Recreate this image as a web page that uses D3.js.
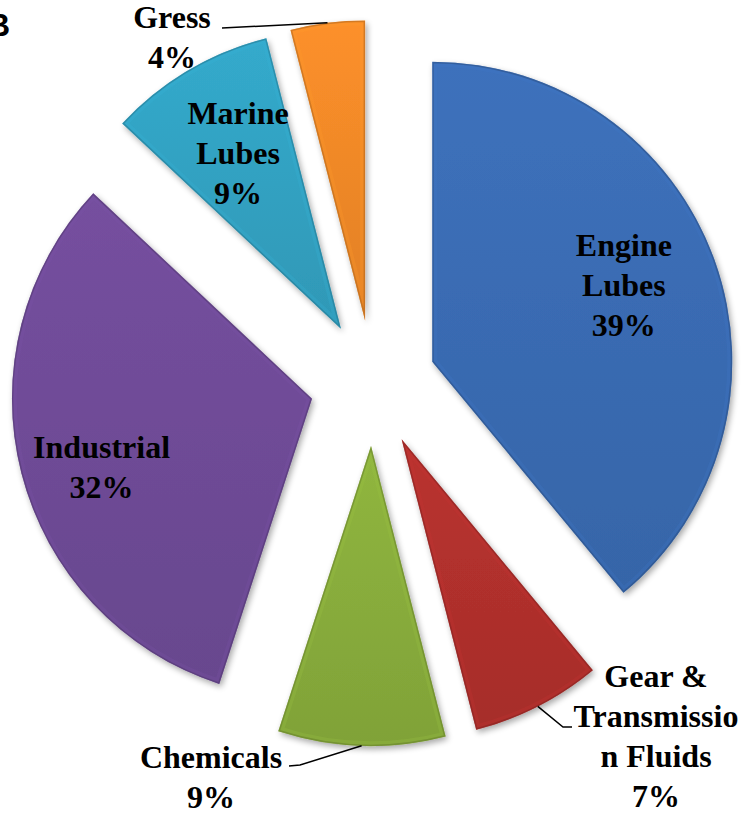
<!DOCTYPE html>
<html>
<head>
<meta charset="utf-8">
<script src="https://cdn.jsdelivr.net/npm/d3@7"></script>
<style>
  body { margin: 0; background: #fff; }
  svg { display: block; }
  .lbl { font-family: "Liberation Serif", "Times New Roman", serif; font-weight: bold; font-size: 32px; fill: #000; }
</style>
</head>
<body>
<svg width="751" height="822"></svg>
<script>
// data
const categories = ['Engine Lubes', 'Gear & Transmission Fluids', 'Chemicals', 'Industrial', 'Marine Lubes', 'Gress'];
const values = [39, 7, 9, 32, 9, 4];
const labelLines = [
  ['Engine', 'Lubes', '39%'],
  ['Gear &', 'Transmissio', 'n Fluids', '7%'],
  ['Chemicals', '9%'],
  ['Industrial', '32%'],
  ['Marine', 'Lubes', '9%'],
  ['Gress', '4%'],
];
const colors = ['#3a6cb4', '#b2302d', '#8aae3c', '#704c98', '#32a3c3', '#f28a28'];

// layout
const R = 300;
const explode = 63;
const cx = 373;
const cy = 383;
const lineH = 40;
// inside labels sit near the centroid, with a small nudge
const nudge = {
  'Engine Lubes': [-6, 3],
  Industrial: [-7, 25],
  'Marine Lubes': [4, 14],
};
// outside labels: text anchor x, first baseline y, leader elbow points
const outside = {
  Gress: { x: 172, y: 28, elbow: [[222, 28]] },
  Chemicals: { x: 211, y: 768, elbow: [[300, 765], [289, 766]] },
  'Gear & Transmission Fluids': { x: 656, y: 687, elbow: [[563, 727], [572, 727]] },
};

const svg = d3.select('svg');
const defs = svg.append('defs');

const shadow = defs.append('filter').attr('id', 'shadow')
  .attr('x', '-20%').attr('y', '-20%').attr('width', '140%').attr('height', '140%');
shadow.append('feGaussianBlur').attr('in', 'SourceAlpha').attr('stdDeviation', 3);
shadow.append('feOffset').attr('dx', 2).attr('dy', 3).attr('result', 'off');
shadow.append('feComponentTransfer').append('feFuncA').attr('type', 'linear').attr('slope', 0.35);
const merge = shadow.append('feMerge');
merge.append('feMergeNode');
merge.append('feMergeNode').attr('in', 'SourceGraphic');

colors.forEach((c, i) => {
  const gr = defs.append('linearGradient').attr('id', `grad${i}`)
    .attr('x1', 0).attr('y1', 0).attr('x2', 0).attr('y2', 1);
  gr.append('stop').attr('offset', '0%').attr('stop-color', d3.color(c).brighter(0.12));
  gr.append('stop').attr('offset', '100%').attr('stop-color', d3.color(c).darker(0.2));
});

const pie = d3.pie().sort(null).value(d => d);
const arcs = pie(values);
const arc = d3.arc().innerRadius(0).outerRadius(R);

const slices = svg.append('g').selectAll('g')
  .data(arcs)
  .enter()
  .append('g')
  .attr('transform', (d) => {
    const mid = (d.startAngle + d.endAngle) / 2;
    d.ox = cx + Math.sin(mid) * explode;
    d.oy = cy - Math.cos(mid) * explode;
    d.mid = mid;
    return `translate(${d.ox},${d.oy})`;
  });

slices.each(function (d, i) {
  const g = d3.select(this);
  const cp = defs.append('clipPath').attr('id', `clip${i}`);
  cp.append('path').attr('d', arc(d));
  g.append('path')
    .attr('d', arc(d))
    .attr('fill', `url(#grad${i})`)
    .attr('filter', 'url(#shadow)');
  // soft bevel: light inner band, dark thin rim
  g.append('path')
    .attr('d', arc(d))
    .attr('fill', 'none')
    .attr('stroke', d3.color(colors[i]).brighter(0.3))
    .attr('stroke-opacity', 0.25)
    .attr('stroke-width', 10)
    .attr('clip-path', `url(#clip${i})`);
  g.append('path')
    .attr('d', arc(d))
    .attr('fill', 'none')
    .attr('stroke', d3.color(colors[i]).darker(1))
    .attr('stroke-opacity', 0.5)
    .attr('stroke-width', 3)
    .attr('clip-path', `url(#clip${i})`);
});

// labels
const labels = svg.append('g');
arcs.forEach((d, i) => {
  const name = categories[i];
  const lines = labelLines[i];
  const o = outside[name];
  if (o) {
    const ax = d.ox + Math.sin(d.mid) * R;
    const ay = d.oy - Math.cos(d.mid) * R;
    const pts = [[ax, ay], ...o.elbow];
    labels.append('path')
      .attr('d', d3.line()(pts))
      .attr('fill', 'none')
      .attr('stroke', '#000')
      .attr('stroke-width', 1.5);
    const t = labels.append('text').attr('class', 'lbl').attr('text-anchor', 'middle');
    lines.forEach((s, k) => {
      t.append('tspan').attr('x', o.x).attr('y', o.y + k * lineH).text(s);
    });
  } else {
    const [nx, ny] = nudge[name] || [0, 0];
    const lr = R * 0.7;
    const lx = d.ox + Math.sin(d.mid) * lr + nx;
    const ly = d.oy - Math.cos(d.mid) * lr - 8 + ny;
    const t = labels.append('text').attr('class', 'lbl').attr('text-anchor', 'middle');
    lines.forEach((s, k) => {
      t.append('tspan').attr('x', lx).attr('y', ly + (k - (lines.length - 1) / 2) * lineH + 10).text(s);
    });
  }
});

// panel letter (cut by the left edge)
svg.append('text')
  .attr('x', 10).attr('y', 36)
  .attr('text-anchor', 'end')
  .style('font-family', '"Liberation Sans", Arial, sans-serif')
  .style('font-weight', 'bold')
  .style('font-size', '32px')
  .text('B');
</script>
</body>
</html>
